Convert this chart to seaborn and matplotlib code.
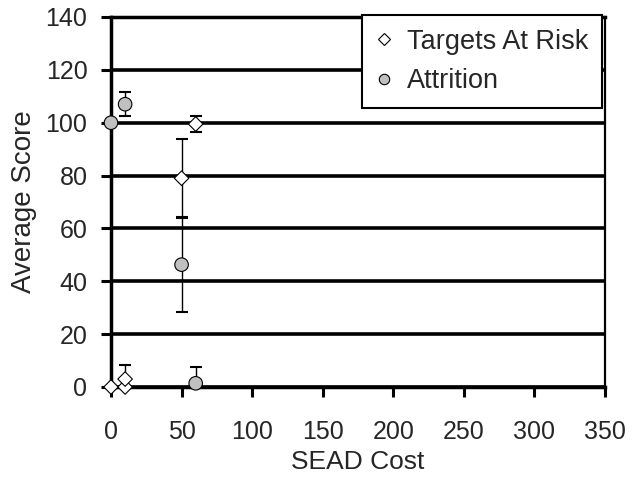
import matplotlib
matplotlib.use("Agg")
import matplotlib.pyplot as plt
import pandas as pd
import seaborn as sns

# Targets At Risk (diamonds)
tar_cost = [0, 10, 10, 50, 60]
tar_score = [0, 0, 3, 79, 99.5]
tar_err = [0, 0, 5.5, 15, 3]

# Attrition (circles)
att_cost = [0, 10, 50, 60]
att_score = [100, 107, 46.3, 1.4]
att_err = [0, 4.5, 18, 6]

x_ticks = [0, 50, 100, 150, 200, 250, 300, 350]
y_ticks = [0, 20, 40, 60, 80, 100, 120, 140]

sns.set_style("white")
plt.rcParams["font.family"] = ["Liberation Sans", "DejaVu Sans"]

df = pd.concat([
    pd.DataFrame({"cost": tar_cost, "score": tar_score, "err": tar_err, "series": "Targets At Risk"}),
    pd.DataFrame({"cost": att_cost, "score": att_score, "err": att_err, "series": "Attrition"}),
], ignore_index=True)

fig = plt.figure(figsize=(6.42, 4.8), dpi=100)
ax = fig.add_axes([111 / 642, 1 - 387 / 480, (605 - 111) / 642, (387 - 17) / 480])

# error bars first so markers sit on top
for name, sub in df.groupby("series", sort=False):
    ax.errorbar(sub["cost"], sub["score"], yerr=sub["err"], fmt="none",
                ecolor="black", elinewidth=1.0, capsize=4, capthick=1.5, zorder=3)

sns.scatterplot(data=df, x="cost", y="score", hue="series", style="series", size="series",
                markers={"Targets At Risk": "D", "Attrition": "o"},
                palette={"Targets At Risk": "white", "Attrition": "#c0c0c0"},
                sizes={"Targets At Risk": 55, "Attrition": 95},
                edgecolor="black", linewidth=0.8, ax=ax, zorder=4,
                clip_on=False)

ax.set_xlim(0, 350)
ax.set_ylim(0, 140)
ax.set_xticks(x_ticks)
ax.set_yticks(y_ticks)
ax.yaxis.grid(True, color="black", linewidth=2.6)
ax.set_axisbelow(True)

for side in ["left", "bottom", "top"]:
    ax.spines[side].set_linewidth(2.5)
    ax.spines[side].set_color("black")
ax.spines["right"].set_linewidth(1.6)
ax.spines["right"].set_color("black")

ax.tick_params(axis="both", direction="out", length=7, width=2.2, color="black",
               labelsize=18, bottom=True, left=True)
ax.tick_params(axis="x", pad=17)
ax.tick_params(axis="y", pad=10)

ax.set_xlabel("SEAD Cost", fontsize=19, labelpad=4)
ax.set_ylabel("Average Score", fontsize=20, labelpad=6)

handles, labels = ax.get_legend_handles_labels()
for h in handles:
    h.set_markeredgecolor("black")
    h.set_markeredgewidth(0.8)
handles[0].set_markersize(6.5)
handles[1].set_markersize(7.5)
leg = ax.legend(handles, labels, loc="upper right", bbox_to_anchor=(1.0 - 3 / 494, 1.0 + 2 / 370),
                fontsize=19.5, frameon=True, fancybox=False, handlelength=0.6,
                handletextpad=0.55, borderpad=0.5, labelspacing=0.5, borderaxespad=0)
leg.get_frame().set_edgecolor("black")
leg.get_frame().set_linewidth(1.5)
leg.get_frame().set_alpha(1)
leg.set_zorder(10)

fig.savefig("out.png", dpi=100)
